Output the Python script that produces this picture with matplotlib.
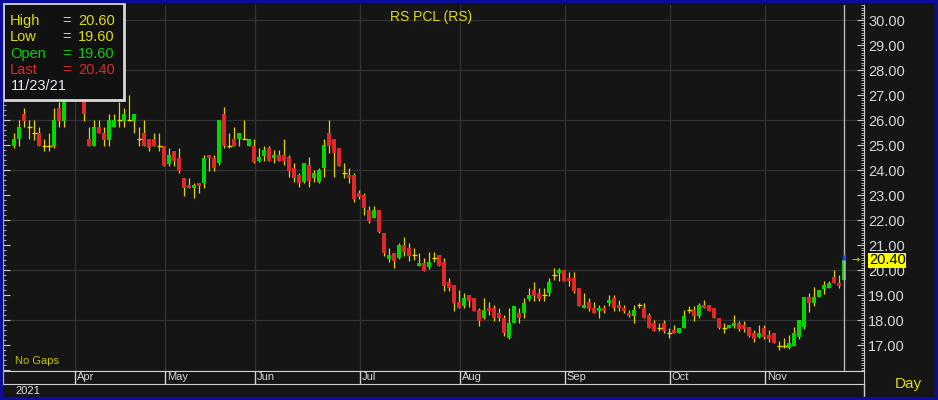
import matplotlib
matplotlib.use('Agg')

import numpy as np
import matplotlib.pyplot as plt
from matplotlib.ticker import MultipleLocator, FixedLocator, FormatStrFormatter
from matplotlib.patches import Rectangle
from matplotlib.lines import Line2D

plt.rcParams['font.family'] = ['Liberation Sans', 'DejaVu Sans']

# -------------------------
# Data (daily OHLC, Mar - Nov 23 2021)
# -------------------------
opens = [24.96, 25.24, 26.23, 25.73, 25.47, 25.47, 24.96, 24.96, 24.96, 26.49,
         25.96, 26.90, 27.20, 27.10, 26.73, 25.24, 24.96, 25.73, 25.47, 25.20,
         25.73, 26.00, 25.96, 26.00, 25.96, 25.24, 25.47, 25.24, 25.24, 24.96,
         24.96, 24.23, 24.77, 24.49, 23.69, 23.40, 23.27, 23.50, 23.47, 24.60,
         24.49, 24.27, 26.24, 24.96, 25.23, 25.23, 25.23, 24.96, 24.96, 24.37,
         24.56, 24.87, 24.47, 24.60, 24.60, 24.51, 24.07, 23.80, 23.53, 24.20,
         23.67, 23.53, 24.07, 25.49, 25.23, 24.87, 23.89, 23.80, 23.80, 23.09,
         23.00, 22.40, 22.07, 22.40, 21.49, 20.43, 20.69, 20.47, 21.00, 20.87,
         20.60, 20.16, 20.29, 20.13, 20.47, 20.60, 20.31, 19.51, 19.40, 18.71,
         18.56, 19.00, 18.89, 18.40, 18.07, 18.49, 18.49, 18.27, 18.09, 17.27,
         17.87, 18.27, 18.27, 18.84, 19.20, 19.07, 19.00, 19.07, 19.80, 19.87,
         20.00, 19.69, 19.69, 19.29, 18.47, 18.71, 18.49, 18.36, 18.49, 18.67,
         18.89, 18.60, 18.49, 18.27, 18.17, 18.60, 18.47, 18.20, 17.87, 17.67,
         17.87, 17.49, 17.60, 17.47, 17.67, 18.40, 18.40, 18.16, 18.60, 18.60,
         18.47, 18.07, 17.67, 17.67, 17.76, 17.89, 17.80, 17.71, 17.49, 17.33,
         17.67, 17.40, 17.49, 16.96, 16.96, 16.87, 16.96, 17.33, 17.71, 18.91,
         18.67, 18.93, 19.23, 19.27, 19.71, 19.49, 19.60]
highs = [25.49, 26.00, 26.49, 26.00, 26.00, 25.73, 25.24, 25.49, 26.49, 26.73,
         27.00, 27.40, 27.60, 27.30, 26.80, 25.73, 26.00, 26.00, 25.73, 26.23,
         26.23, 26.73, 26.49, 27.00, 26.23, 25.73, 26.00, 25.24, 25.47, 25.47,
         24.96, 24.87, 24.77, 24.87, 23.69, 23.69, 23.50, 23.50, 24.60, 24.60,
         24.60, 26.00, 26.51, 25.49, 25.73, 25.49, 26.00, 25.23, 25.23, 24.87,
         24.96, 24.96, 24.80, 24.80, 25.23, 24.60, 24.27, 23.90, 24.29, 24.51,
         24.00, 24.07, 25.23, 26.00, 25.23, 24.87, 24.29, 24.07, 23.89, 23.20,
         23.09, 22.56, 22.56, 22.40, 21.49, 20.87, 20.69, 21.09, 21.33, 21.09,
         20.89, 20.69, 20.47, 20.71, 20.71, 20.60, 20.49, 19.69, 19.40, 19.20,
         19.07, 19.00, 18.89, 18.49, 18.89, 18.71, 18.60, 18.49, 18.20, 18.49,
         18.57, 18.49, 18.89, 19.29, 19.51, 19.29, 19.29, 19.69, 20.09, 20.09,
         20.00, 19.91, 19.91, 19.29, 19.07, 18.89, 18.71, 18.60, 18.60, 19.00,
         19.00, 18.80, 18.60, 18.40, 18.60, 18.69, 18.69, 18.29, 18.00, 17.87,
         18.00, 17.67, 17.80, 17.67, 18.40, 18.56, 18.56, 18.69, 18.80, 18.60,
         18.47, 18.07, 17.87, 17.80, 18.20, 17.97, 17.97, 17.71, 17.60, 17.80,
         17.80, 17.60, 17.49, 17.17, 17.27, 17.40, 17.71, 18.00, 18.91, 19.09,
         19.31, 19.20, 19.57, 19.57, 20.00, 19.80, 20.60]
lows = [24.87, 24.96, 25.73, 25.24, 25.20, 24.96, 24.76, 24.76, 24.87, 25.73,
        25.73, 26.85, 27.00, 26.90, 25.96, 24.96, 24.96, 25.47, 24.96, 24.96,
        25.73, 25.73, 25.73, 25.96, 25.47, 24.96, 24.96, 24.76, 24.96, 24.76,
        24.16, 24.16, 24.16, 23.87, 22.97, 23.27, 22.87, 23.07, 23.27, 23.96,
        23.96, 24.20, 24.87, 24.87, 24.96, 24.96, 25.23, 24.96, 24.27, 24.33,
        24.37, 24.37, 24.27, 24.37, 24.20, 23.73, 23.53, 23.33, 23.47, 23.33,
        23.53, 23.47, 23.73, 24.67, 23.73, 24.16, 23.67, 23.47, 22.73, 22.83,
        22.20, 21.87, 22.07, 21.47, 20.56, 20.33, 20.07, 20.43, 20.56, 20.37,
        20.40, 20.16, 19.97, 20.04, 20.31, 20.17, 19.16, 19.16, 18.36, 18.47,
        18.47, 18.53, 18.36, 17.76, 18.04, 18.20, 17.96, 17.96, 17.37, 17.24,
        17.87, 17.87, 18.07, 18.76, 18.76, 18.76, 18.76, 18.97, 19.60, 19.56,
        19.56, 19.37, 19.07, 18.57, 18.47, 18.36, 18.27, 18.07, 18.27, 18.57,
        18.36, 18.36, 18.27, 18.13, 17.87, 18.47, 18.07, 17.67, 17.57, 17.57,
        17.49, 17.27, 17.47, 17.47, 17.67, 18.27, 17.97, 18.07, 18.47, 18.37,
        18.07, 17.63, 17.47, 17.67, 17.67, 17.57, 17.53, 17.33, 17.13, 17.27,
        17.23, 17.13, 17.07, 16.80, 16.87, 16.83, 16.96, 17.23, 17.63, 18.33,
        18.56, 18.93, 19.04, 19.27, 19.47, 19.27, 19.60]
closes = [25.24, 25.73, 25.96, 25.73, 25.47, 24.96, 24.96, 24.96, 26.00, 25.96,
          26.73, 27.20, 27.10, 27.00, 26.23, 24.96, 25.73, 25.47, 25.20, 26.00,
          26.00, 26.00, 26.23, 26.00, 26.23, 25.24, 24.96, 24.87, 24.96, 24.96,
          24.16, 24.60, 24.36, 23.96, 23.27, 23.27, 23.40, 23.36, 24.49, 24.47,
          24.07, 26.00, 24.96, 24.96, 24.96, 25.49, 25.23, 25.23, 24.33, 24.51,
          24.80, 24.37, 24.60, 24.37, 24.37, 23.97, 23.67, 23.47, 24.29, 23.57,
          23.89, 24.00, 25.00, 24.96, 24.67, 24.16, 23.89, 23.67, 22.83, 22.93,
          22.47, 21.97, 22.40, 21.53, 20.67, 20.60, 20.37, 21.00, 20.73, 20.56,
          20.60, 20.29, 19.97, 20.31, 20.47, 20.17, 19.37, 19.27, 18.67, 18.47,
          18.89, 18.76, 18.36, 17.96, 18.40, 18.36, 18.07, 18.07, 17.47, 17.87,
          18.57, 18.07, 18.67, 19.00, 18.97, 18.84, 19.00, 19.51, 19.80, 20.00,
          19.56, 19.56, 19.16, 18.57, 18.60, 18.44, 18.27, 18.49, 18.36, 18.80,
          18.47, 18.47, 18.36, 18.17, 18.40, 18.60, 18.07, 17.67, 17.57, 17.67,
          17.57, 17.49, 17.47, 17.67, 18.16, 18.40, 18.16, 18.60, 18.47, 18.37,
          18.07, 17.67, 17.67, 17.80, 17.89, 17.63, 17.63, 17.36, 17.23, 17.49,
          17.33, 17.23, 17.07, 16.96, 16.96, 17.09, 17.49, 18.00, 18.91, 18.67,
          18.91, 19.20, 19.40, 19.49, 19.47, 19.36, 20.40]

month_labels = ["Apr", "May", "Jun", "Jul", "Aug", "Sep", "Oct", "Nov"]
month_starts = [12, 30, 48, 69, 89, 110, 131, 150]
price_ticks = [17, 18, 19, 20, 21, 22, 23, 24, 25, 26, 27, 28, 29, 30]
year_label = "2021"
title = "RS PCL (RS)"
info_names = ["High", "Low", "Open", "Last"]
info_values = [20.60, 19.60, 19.60, 20.40]
last_date = "11/23/21"
last_price = 20.40

# -------------------------
# Colours / layout helpers
# -------------------------
BG = '#151515'
GRID = '#333333'
FG = '#d4d4d4'
UP = '#00d800'
DOWN = '#e02828'
WICK = '#e4d400'
YEL = '#dcdc10'
BLUE = '#0c0c9c'
W, H = 938, 400


def box(x0, y0, x1, y1):
    # pixel box (top-left origin) -> figure fraction rect
    return [x0 / W, 1 - y1 / H, (x1 - x0) / W, (y1 - y0) / H]


def fx(px):
    return px / W


def fy(py):
    return 1 - py / H


o = np.array(opens)
h = np.array(highs)
l = np.array(lows)
c = np.array(closes)
x = np.arange(len(o))

fig = plt.figure(figsize=(W / 100, H / 100), dpi=100, facecolor=BG)

# -------------------------
# Price panel
# -------------------------
ax = fig.add_axes(box(3, 5, 864, 371), facecolor=BG)
ax.set_xlim(-2.26, 169.94)
ax.set_ylim(15.96, 30.6)

ax.hlines(np.arange(18, 31, 2), -3, 171, color=GRID, lw=0.9, zorder=0)
ax.vlines(np.array(month_starts) + 0.1, 15, 31, color=GRID, lw=0.9, zorder=0)

ax.vlines(x, l, h, color=WICK, lw=0.9, zorder=2)
up = c > o
dn = c < o
eq = c == o
ax.bar(x[up], (c - o)[up], bottom=o[up], width=0.8, color=UP, lw=0, zorder=3)
ax.bar(x[dn], (o - c)[dn], bottom=c[dn], width=0.8, color=DOWN, lw=0, zorder=3)
ax.hlines(c[eq], x[eq] - 0.45, x[eq] + 0.45, color=WICK, lw=1.0, zorder=3)

# cursor on last bar
ax.axvline(x[-1], color='#b8b8b8', lw=1.0, zorder=4)
ax.vlines(x[-1], c[-1], h[-1], color='#2a3cff', lw=2.5, zorder=5)

ax.yaxis.tick_right()
ax.yaxis.set_major_locator(FixedLocator(price_ticks))
ax.yaxis.set_minor_locator(MultipleLocator(0.1))
ax.yaxis.set_major_formatter(FormatStrFormatter('%.2f'))
ax.tick_params(axis='y', which='major', direction='in', length=5, width=0.8,
               color='#c8c8c8', labelcolor=FG, labelsize=10.5, pad=3)
ax.tick_params(axis='y', which='minor', direction='in', length=2.5, width=0.6,
               color='#c8c8c8')
ax.set_xticks([])

left = ax.secondary_yaxis('left', functions=(lambda v: v, lambda v: v))
left.yaxis.set_major_locator(MultipleLocator(1))
left.yaxis.set_minor_locator(MultipleLocator(0.2))
left.tick_params(which='major', direction='in', length=5, width=0.8,
                 color='#c8c8c8', labelleft=False)
left.tick_params(which='minor', direction='in', length=2.5, width=0.6,
                 color='#c8c8c8')
left.spines['left'].set_color('#b8c0f0')

ax.spines['top'].set_visible(False)
ax.spines['left'].set_color('#b8c0f0')
ax.spines['right'].set_color('#d0d0d0')
ax.spines['bottom'].set_color('#d0d0d0')

ax.text(0.497, 0.985, title, transform=ax.transAxes, ha='center', va='top',
        color=YEL, fontsize=10)
ax.text(0.014, 0.015, "No Gaps", transform=ax.transAxes, ha='left', va='bottom',
        color='#c4c400', fontsize=8)

# -------------------------
# Month band
# -------------------------
band = fig.add_axes(box(3, 371, 864, 384), facecolor=BG)
band.set_xlim(ax.get_xlim())
band.set_ylim(0, 1)
band.set_xticks([])
band.set_yticks([])
for s in band.spines.values():
    s.set_color('#d0d0d0')
band.vlines(np.array(month_starts) + 0.1, 0, 1, color='#d0d0d0', lw=1.0)
for m, i in zip(month_labels, month_starts):
    band.text(i + 0.5, 0.95, m, color=FG, fontsize=8, ha='left', va='top',
              clip_on=True)

fig.add_artist(Line2D([fx(864), fx(864)], [fy(384), fy(398)], color='#d0d0d0', lw=1.0))
fig.text(fx(15), fy(391), year_label, color='#e0e0e0', fontsize=8, va='center')
fig.text(fx(908), fy(384), "Day", color=YEL, fontsize=11, ha='center', va='center')

# -------------------------
# Info box
# -------------------------
fig.add_artist(Rectangle((fx(3), fy(100)), fx(121), (97) / H, transform=fig.transFigure,
                         facecolor='#111111', edgecolor='#d8d8d8', lw=2.0, zorder=10))
info_colors = [YEL, YEL, '#10c810', '#d42a2a']
for k, (name, val, col) in enumerate(zip(info_names, info_values, info_colors)):
    yy = fy(21 + 16.3 * k)
    fig.text(fx(10), yy, name, color=col, fontsize=10.5, va='center', zorder=11)
    fig.text(fx(62), yy, "=", color=col, fontsize=10.5, va='center', zorder=11)
    fig.text(fx(78), yy, f"{val:.2f}", color=col, fontsize=10.5, va='center', zorder=11)
fig.text(fx(11), fy(86), last_date, color='#e4ecf4', fontsize=10.5, va='center', zorder=11)

# -------------------------
# Last price tag
# -------------------------
ytag = ax.transData.transform((0, last_price))[1] / H
fig.add_artist(Rectangle((fx(868), ytag - 7.5 / H), fx(38), 15 / H, transform=fig.transFigure,
                         facecolor='#ffff00', edgecolor='none', zorder=10))
fig.text(fx(869), ytag, f"{last_price:.2f}", color='black', fontsize=10.5,
         va='center', ha='left', zorder=11)
fig.text(fx(856), ytag, "→", color=YEL, fontsize=7, va='center', ha='center',
         family=['DejaVu Sans'], zorder=11)

# outer blue frame
fig.add_artist(Rectangle((0, 0), 1, 1, transform=fig.transFigure, fill=False,
                         edgecolor=BLUE, lw=4.5, zorder=20))

plt.savefig("out.png", dpi=100, facecolor=BG)
